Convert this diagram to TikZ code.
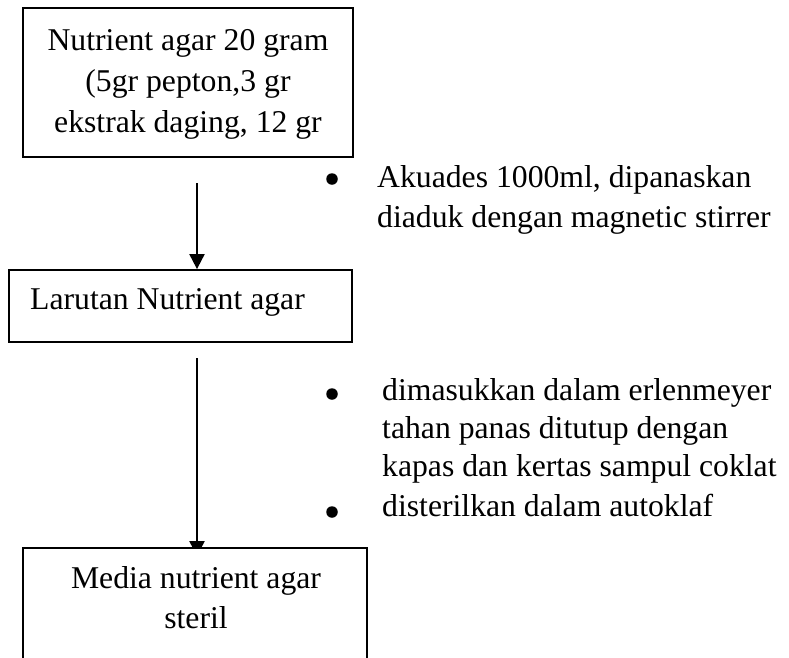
\documentclass[tikz,border=0pt]{standalone}
\usepackage{fontspec}
\setmainfont{Liberation Serif}
\usetikzlibrary{arrows.meta,calc}
\pgfdeclarelayer{background}
\pgfsetlayers{background,main}
\begin{document}
\begin{tikzpicture}[x=1pt,y=-1pt,
  box/.style={draw, line width=1.8pt, fill=white, rectangle, inner sep=0pt},
  txt/.style={inner sep=0pt, font=\fontsize{31.7}{41}\selectfont},
  flow/.style={line width=2pt, -{Triangle[width=15pt,length=15pt]}},
  dot/.style={circle, fill=black, inner sep=0pt, minimum size=11.5pt}]
\clip (0,0) rectangle (789,657);
\useasboundingbox (0,0) rectangle (789,657);
% boxes
\node[box, minimum width=330pt, minimum height=149pt] (b1) at (188,82.5) {};
\node[box, minimum width=343pt, minimum height=72pt] (b2) at (180.5,306) {};
\node[box, minimum width=344pt, minimum height=152pt] (b3) at (195,624) {};
% box texts (base = baseline of the last line)
\node[txt, anchor=base, align=center] (t1) at (188,132)
  {Nutrient agar 20 gram\\(5gr pepton,3 gr\\ekstrak daging, 12 gr};
\node[txt, anchor=base west] (t2) at (30,309) {Larutan Nutrient agar};
\node[txt, anchor=base, align=center, font=\fontsize{31.7}{40}\selectfont] (t3) at (196,628)
  {Media nutrient agar\\steril};
% connectors
\coordinate (a1s) at (197,183);
\coordinate (a2s) at (197,358);
\draw[flow] (a1s) -- (b2.north -| a1s);
\begin{pgfonlayer}{background}
\draw[flow] (a2s) -- ($(b3.north -| a2s)+(0,9)$);
\end{pgfonlayer}
% bullet notes
\node[dot] (d1) at (332,179) {};
\node[txt, anchor=base west, align=left, font=\fontsize{31.7}{40}\selectfont] (n1) at (377,227)
  {Akuades 1000ml, dipanaskan\\diaduk dengan magnetic stirrer};
\node[dot] (d2) at (332,394) {};
\node[txt, anchor=base west, align=left, font=\fontsize{31.7}{38}\selectfont] (n2) at (382,476)
  {dimasukkan dalam erlenmeyer\\tahan panas ditutup dengan\\kapas dan kertas sampul coklat};
\node[dot] (d3) at (332,512) {};
\node[txt, anchor=base west] (n3) at (382,516) {disterilkan dalam autoklaf};
\end{tikzpicture}
\end{document}
